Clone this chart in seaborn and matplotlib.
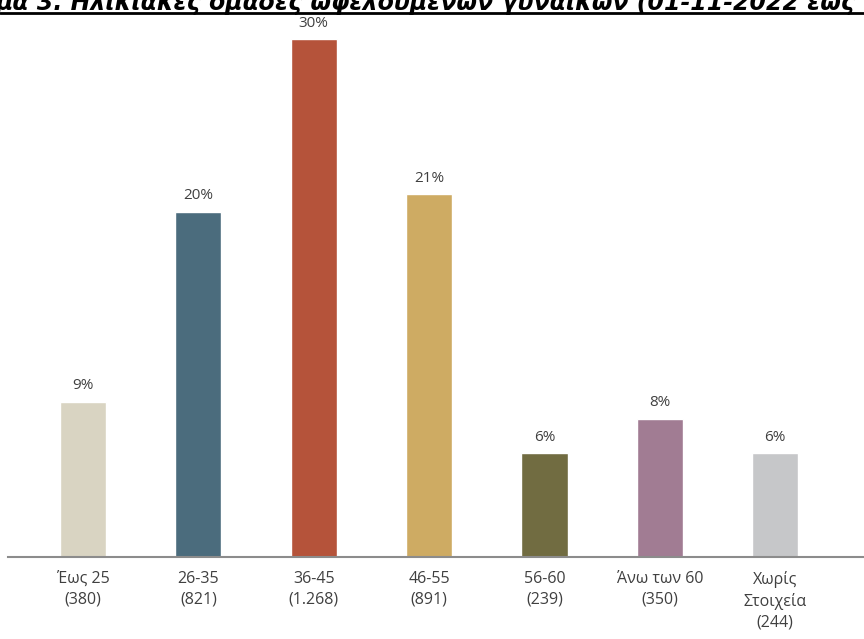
import matplotlib.pyplot as plt
import seaborn as sns
import pandas as pd

# data
groups = ['Έως 25', '26-35', '36-45', '46-55', '56-60', 'Άνω των 60', 'Χωρίς\nΣτοιχεία']
counts = ['380', '821', '1.268', '891', '239', '350', '244']
percents = [9, 20, 30, 21, 6, 8, 6]
colors = ['#d9d4c2', '#4b6c7d', '#b5533a', '#ceab63', '#716c41', '#a17c93', '#c6c7c9']

sns.set_style('white')
plt.rcParams['font.family'] = ['Open Sans', 'DejaVu Sans']

df = pd.DataFrame({'group': groups, 'pct': percents})

fig = plt.figure(figsize=(8.64, 6.39), dpi=100)
ax = fig.add_axes([8 / 864, 82 / 639, 1 - 8 / 864, 1 - 82 / 639])

sns.barplot(data=df, x='group', y='pct', hue='group', palette=colors,
            width=0.4, legend=False, ax=ax, saturation=1)

for cont in ax.containers:
    ax.bar_label(cont, labels=[f'{v:.0f}%' for v in cont.datavalues],
                 padding=6, fontsize=11, color='#404040')

ax.set_xlim(-0.65, 6.77)
ax.set_ylim(0, 32.25)
ax.set_xticks(range(len(groups)))
ax.set_xticklabels([f'{g}\n({c})' for g, c in zip(groups, counts)],
                   fontsize=11.5, color='#404040', linespacing=1.4)
ax.tick_params(axis='x', length=0, pad=10)
ax.set_yticks([])
ax.set_xlabel('')
ax.set_ylabel('')
for s in ['top', 'right', 'left']:
    ax.spines[s].set_visible(False)
ax.spines['bottom'].set_color('#8c8c8c')
ax.spines['bottom'].set_linewidth(1.5)

# title, cropped at the top of the image as in the source
fig.text(-0.005, 1 - 10 / 639,
         'μα 3. Ηλικιακές ομάδες ωφελούμενων γυναικών (01-11-2022 έως',
         fontsize=17, fontweight='bold', fontstyle='italic',
         family=['DejaVu Sans'], va='baseline', ha='left', color='black')
fig.add_artist(plt.Line2D([0, 1], [1 - 13 / 639, 1 - 13 / 639],
                          transform=fig.transFigure, color='black', lw=2))

plt.savefig('out.png', dpi=100)
